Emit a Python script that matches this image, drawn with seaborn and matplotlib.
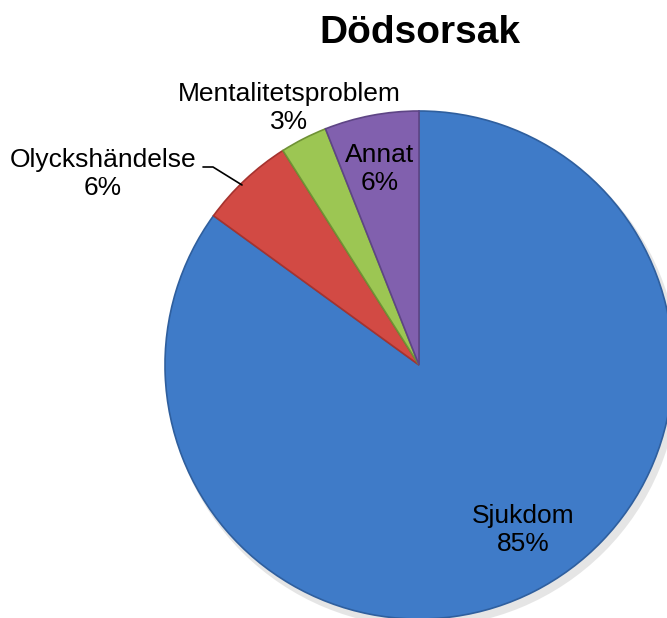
import numpy as np
import matplotlib.pyplot as plt
import seaborn as sns

sns.set_theme(style="white")
plt.rcParams['font.family'] = ['Liberation Sans', 'DejaVu Sans']
plt.rcParams['text.color'] = 'black'

# data
categories = ["Sjukdom", "Olyckshändelse", "Mentalitetsproblem", "Annat"]
shares = [85, 6, 3, 6]
colors = ["#3F7BC8", "#D24A44", "#9CC653", "#8160AE"]
edges = ["#2F5F9E", "#A6332F", "#6F9235", "#5E4585"]

W, H = 667, 618
fig = plt.figure(figsize=(W / 100, H / 100), dpi=100)
ax = fig.add_axes([0, 0, 1, 1])

def py(y):
    # pixel row (from top) -> data y
    return H - y

cx, cy, r = 419, py(365), 254

# soft shadow
ax.pie([1], radius=r + 2, center=(cx + 4, cy - 6), colors=["#cccccc"],
       wedgeprops=dict(linewidth=0, alpha=0.5))
wedges, _ = ax.pie(shares, radius=r, center=(cx, cy), startangle=90,
                   counterclock=False, colors=colors,
                   wedgeprops=dict(linewidth=1.2))
for w, e in zip(wedges, edges):
    w.set_edgecolor(e)

ax.set_xlim(0, W)
ax.set_ylim(0, H)
ax.set_aspect("equal")
ax.axis("off")

fs = 19
labels = [f"{c}\n{s}%" for c, s in zip(categories, shares)]
label_pos = [(523, 530), (103, 174), (289, 108), (380, 169)]
for lab, (x, y) in zip(labels, label_pos):
    ax.text(x, py(y), lab, ha="center", va="center", fontsize=fs, linespacing=1.22)
ax.plot([203, 213, 242], [py(167), py(167), py(185)], color="black", lw=1.2)

ax.text(420, py(33), "Dödsorsak", ha="center", va="center", fontsize=28, fontweight="bold")

fig.savefig("out.png", dpi=100)
